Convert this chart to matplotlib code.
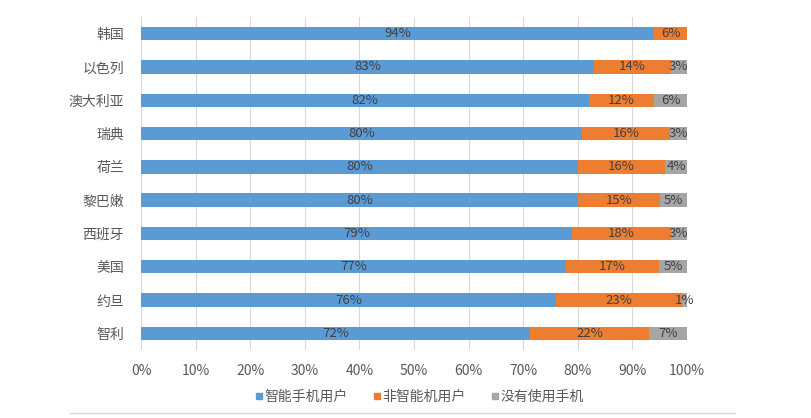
import numpy as np
import matplotlib.pyplot as plt
from matplotlib.lines import Line2D

plt.rcParams['font.family'] = ['Noto Sans CJK SC', 'DejaVu Sans']

countries = ['韩国', '以色列', '澳大利亚', '瑞典', '荷兰', '黎巴嫩', '西班牙', '美国', '约旦', '智利']
smart = [94, 83, 82, 80, 80, 80, 79, 77, 76, 72]
non_smart = [6, 14, 12, 16, 16, 15, 18, 17, 23, 22]
no_phone = [0, 3, 6, 3, 4, 5, 3, 5, 1, 7]
series_names = ['智能手机用户', '非智能机用户', '没有使用手机']
colors = ['#5b9bd5', '#ed7d31', '#a5a5a5']

# 100% stacked: each row normalised to its total
raw = np.array([smart, non_smart, no_phone], dtype=float)
share = raw / raw.sum(axis=0)

fig = plt.figure(figsize=(8.12, 4.18), dpi=100)
ax = fig.add_axes([141 / 812, 1 - 350 / 418, 546 / 812, 333 / 418])

y = np.arange(len(countries))
left = np.zeros(len(countries))
for i in range(3):
    ax.barh(y, share[i], left=left, height=0.4, color=colors[i], zorder=3)
    for j in range(len(countries)):
        if raw[i, j] > 0:
            ax.text(left[j] + share[i, j] / 2, y[j], '%d%%' % raw[i, j],
                    ha='center', va='center', fontsize=9.5, color='#404040', zorder=4)
    left += share[i]

ax.set_ylim(len(countries) - 0.5, -0.5)
ax.set_xlim(0, 1)
ax.set_yticks(y)
ax.set_yticklabels(countries, fontsize=10, color='#595959')
ax.set_xticks(np.linspace(0, 1, 11))
ax.set_xticklabels(['%d%%' % v for v in range(0, 101, 10)], fontsize=10, color='#595959')
ax.tick_params(axis='y', length=0, pad=12)
ax.tick_params(axis='x', length=0, pad=10)
ax.grid(axis='x', color='#d9d9d9', linewidth=0.8, zorder=0)
for s in ax.spines.values():
    s.set_visible(False)

handles = [Line2D([], [], marker='s', linestyle='', color=c, markersize=5) for c in colors]
fig.legend(handles, series_names, loc='center', bbox_to_anchor=(417 / 812, 1 - 397 / 418),
           ncol=3, frameon=False, fontsize=10, handletextpad=-0.2, columnspacing=1.5,
           handlelength=1.2, labelcolor='#595959')

fig.add_artist(Line2D([70 / 812, 735 / 812], [1 - 413 / 418] * 2, color='#d9d9d9', linewidth=1))

plt.savefig('out.png', dpi=100)
